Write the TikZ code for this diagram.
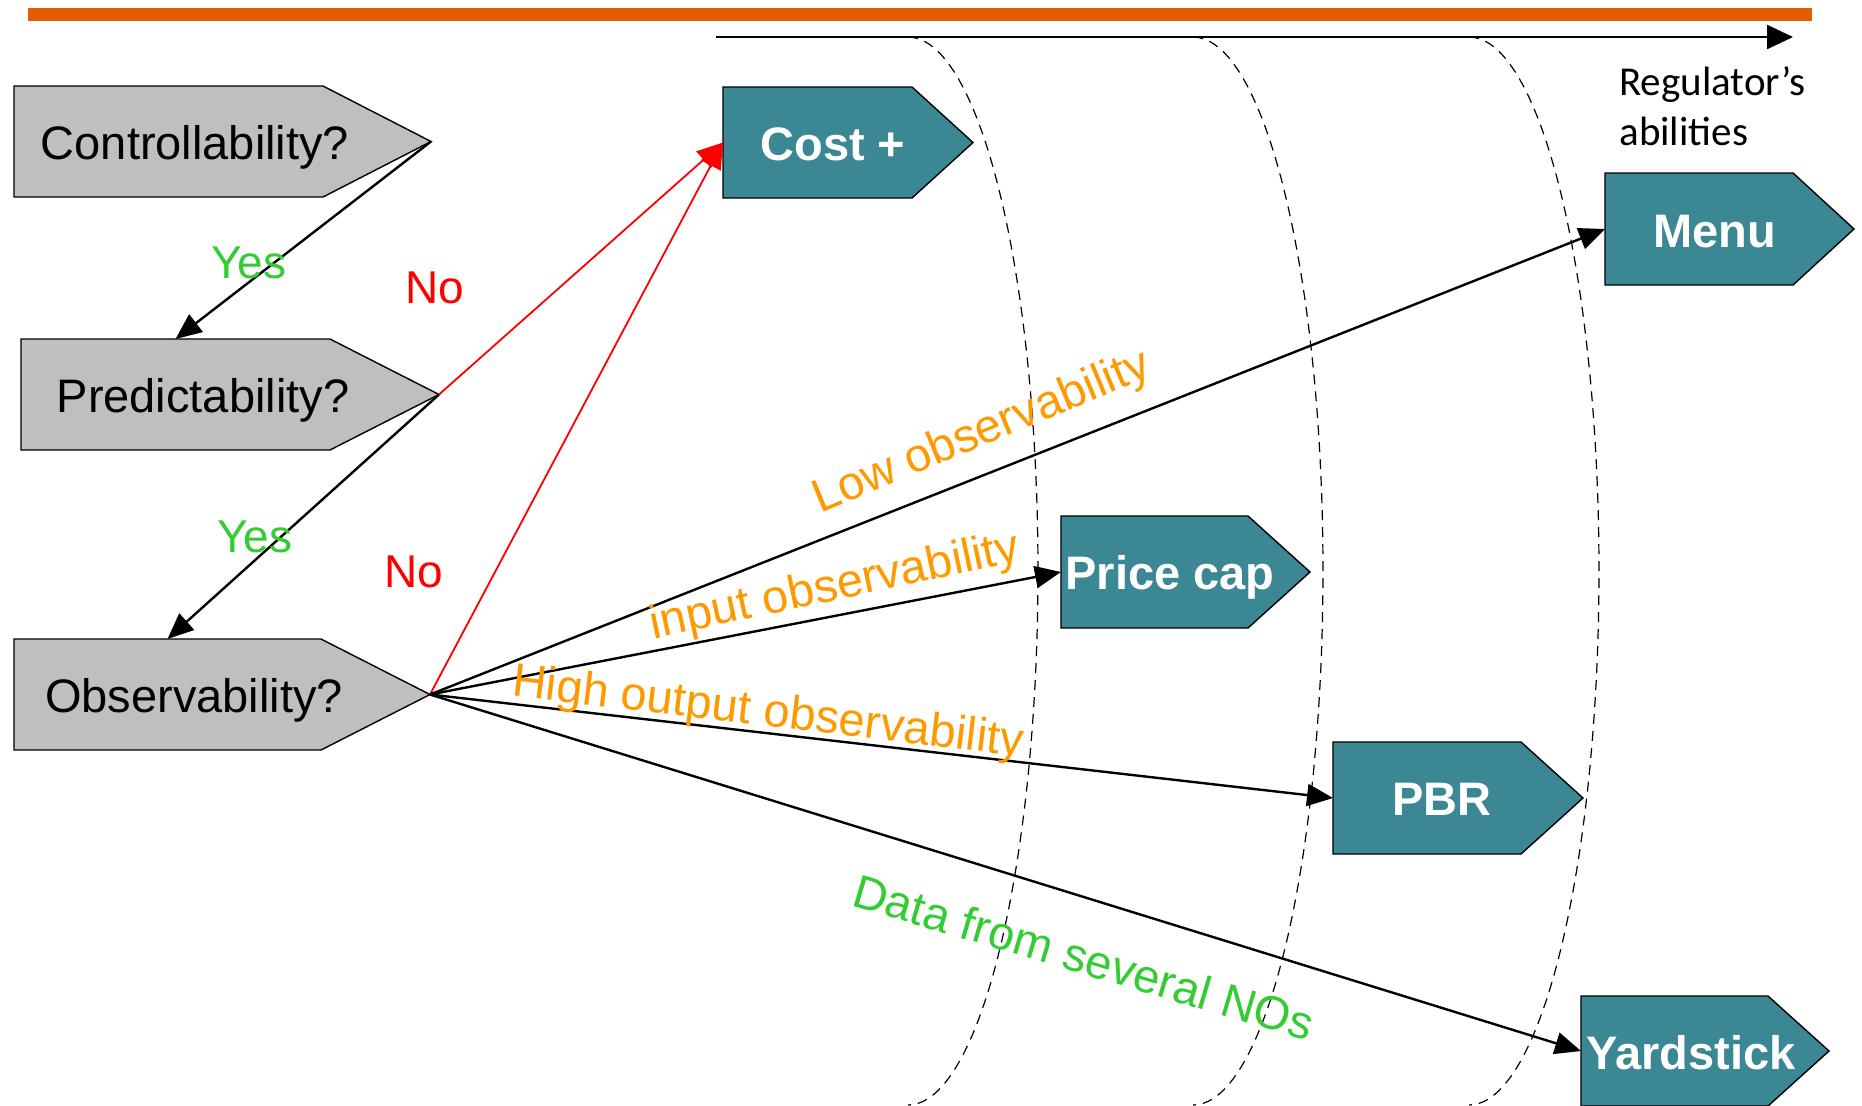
\documentclass[tikz,border=0pt]{standalone}
\usepackage{fontspec}
\setmainfont{Liberation Sans}
\newfontfamily\calibri{Carlito}
\usetikzlibrary{arrows.meta}

\definecolor{boxgray}{RGB}{191,191,191}
\definecolor{boxteal}{RGB}{59,135,147}
\definecolor{barorange}{RGB}{227,92,0}
\definecolor{laborange}{RGB}{255,153,0}
\definecolor{labgreen}{RGB}{51,204,51}
\definecolor{labred}{RGB}{255,0,0}

% #1 name, #2 style, #3 left x, #4 top y, #5 body right x, #6 tip x, #7 bottom y
\newcommand\tagbox[7]{%
  \path[#2] (#3,#4) -- (#5,#4) -- (#6,{(#4+#7)/2}) -- (#5,#7) -- (#3,#7) -- cycle;
  \coordinate (#1-top) at ({(#3+#5)/2},#4);
  \coordinate (#1-tip) at (#6,{(#4+#7)/2});
  \coordinate (#1-in) at (#3,{(#4+#7)/2});
}

\begin{document}
\begin{tikzpicture}[x=0.5pt,y=-0.5pt,
  qbox/.style={fill=boxgray, draw=black, line width=0.7pt},
  rbox/.style={fill=boxteal, draw=black, line width=0.7pt},
  qtext/.style={anchor=base, inner sep=0pt, font=\fontsize{23.5}{28}\selectfont},
  rtext/.style={anchor=base, inner sep=0pt, text=white, font=\bfseries\fontsize{23.5}{28}\selectfont},
  flow/.style={draw=black, line width=1.2pt, -{Triangle[length=13pt,width=11pt]}},
  noflow/.style={draw=labred, line width=0.9pt, -{Triangle[length=13pt,width=11pt]}},
  answer/.style={anchor=base, inner sep=0pt, font=\fontsize{23}{28}\selectfont},
  edgelbl/.style={inner sep=0pt, font=\fontsize{23.5}{28}\selectfont},
  level/.style={draw=black, line width=0.6pt, dash pattern=on 5pt off 3.5pt},
]
\useasboundingbox (0,0) rectangle (1862,1105);

% title rule
\fill[barorange] (28,8) rectangle (1812,21);

% axis of the regulator's abilities
\coordinate (axis-start) at (716,37);
\coordinate (axis-end) at (1793,37);
\draw[line width=1.2pt, -{Triangle[length=13pt,width=12pt]}] (axis-start) -- (axis-end);
\node[anchor=base west, inner sep=0pt, align=left, font=\calibri\fontsize{20.5}{25}\selectfont]
  (abilities) at (1619,145) {Regulator’s\\abilities};

% dashed level boundaries
\foreach \x in {908,1193,1469}
  \draw[level] plot[domain=-90:90, samples=80, variable=\t]
    ({\x+130*cos(\t)}, {571+534*sin(\t)});

% question boxes
\tagbox{ctrl}{qbox}{14}{86}{323}{431}{197}
\tagbox{pred}{qbox}{21}{339}{330}{439}{450}
\tagbox{obs}{qbox}{14}{639}{321}{430}{750}
\node[qtext] (ctrl) at (195,159) {Controllability?};
\node[qtext] (pred) at (203,412) {Predictability?};
\node[qtext] (obs) at (194,712) {Observability?};

% regulation regimes
\tagbox{cost}{rbox}{723}{87}{912}{973}{198}
\tagbox{menu}{rbox}{1605}{173}{1793}{1854}{285}
\tagbox{price}{rbox}{1061}{516}{1248}{1310}{628}
\tagbox{pbr}{rbox}{1333}{742}{1521}{1583}{854}
\tagbox{yard}{rbox}{1581}{996}{1768}{1829}{1106}
\node[rtext] (cost) at (833,160) {Cost +};
\node[rtext] (menu) at (1715,247) {Menu};
\node[rtext] (price) at (1170,589) {Price cap};
\node[rtext] (pbr) at (1442,815) {PBR};
\node[rtext] (yard) at (1691,1069) {Yardstick};

% decisions
\draw[flow] (ctrl-tip) -- (pred-top);
\draw[flow] (pred-tip) -- (obs-top);
\draw[noflow] (pred-tip) -- (cost-in);
\draw[noflow] (obs-tip) -- (cost-in);
\draw[flow] (obs-tip) -- (menu-in);
\draw[flow] (obs-tip) -- (price-in);
\draw[flow] (obs-tip) -- (pbr-in);
\draw[flow] (obs-tip) -- (yard-in);

% answers
\node[answer, text=labgreen] (yes1) at (249,278) {Yes};
\node[answer, text=labred] (no1) at (435,303) {No};
\node[answer, text=labgreen] (yes2) at (255,552) {Yes};
\node[answer, text=labred] (no2) at (414,587) {No};

% conditions on the branches
\node[edgelbl, text=laborange, rotate=22.5] (lowobs) at (982,433) {Low observability};
\node[edgelbl, text=laborange, rotate=12] (inobs) at (835,588) {input observability};
\node[edgelbl, text=laborange, rotate=-6.75] (outobs) at (768,714) {High output observability};
\node[edgelbl, text=labgreen, rotate=-16.5] (data) at (1084,957) {Data from several NOs};
\end{tikzpicture}
\end{document}
